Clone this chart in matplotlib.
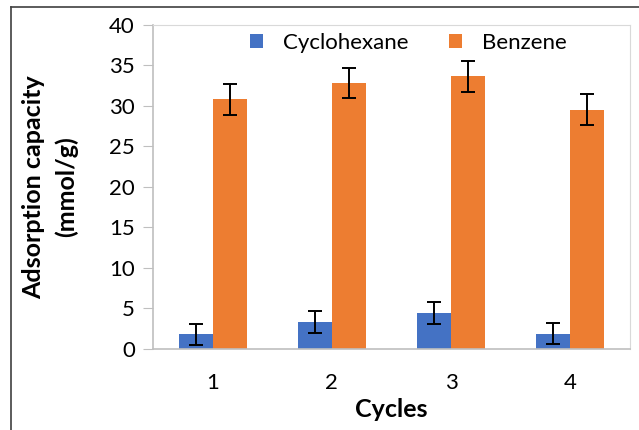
import numpy as np
import matplotlib.pyplot as plt
from matplotlib.lines import Line2D

plt.rcParams['font.family'] = ['Lato', 'DejaVu Sans']

cycles = ['1', '2', '3', '4']
cyclohexane = [1.8, 3.3, 4.4, 1.9]
cyclohexane_err = [1.3, 1.35, 1.35, 1.3]
benzene = [30.8, 32.8, 33.6, 29.5]
benzene_err = [1.9, 1.9, 1.9, 1.9]

fig = plt.figure(figsize=(6.39, 4.30), dpi=100)
ax = fig.add_axes([0.2394, 0.1884, 0.7465, 0.7546])

x = np.arange(len(cycles))
w = 0.285
err_kw = dict(ecolor='black', capsize=5, elinewidth=1.4, capthick=1.4)
ax.bar(x - w/2, cyclohexane, w, yerr=cyclohexane_err, color='#4472C4', label='Cyclohexane', error_kw=err_kw)
ax.bar(x + w/2, benzene, w, yerr=benzene_err, color='#ED7D31', label='Benzene', error_kw=err_kw)

ax.set_xlim(-0.5, 3.5)
ax.set_ylim(0, 40)
ax.set_yticks(range(0, 41, 5))
ax.set_xticks(x)
ax.set_xticklabels(cycles)
ax.tick_params(axis='y', length=7, color='#BFBFBF', labelsize=16, pad=6)
ax.tick_params(axis='x', length=0, labelsize=16, pad=17)
for s in ax.spines.values():
    s.set_color('#D9D9D9')
ax.spines['left'].set_color('#BFBFBF')
ax.spines['bottom'].set_color('#BFBFBF')
ax.spines['left'].set_linewidth(1.2)
ax.spines['bottom'].set_linewidth(1.2)

ax.set_xlabel('Cycles', fontsize=18, fontweight='bold', labelpad=4)
ax.set_ylabel('Adsorption capacity\n(mmol/g)', fontsize=18, fontweight='bold',
              labelpad=22, linespacing=1.5)

ax.legend(loc='upper center', ncol=2, frameon=False, fontsize=16, handlelength=0.6,
          handleheight=0.6, columnspacing=1.8, handletextpad=0.9, bbox_to_anchor=(0.535, 1.035))

# outer frame lines (left and top)
fig.add_artist(Line2D([11/639, 11/639], [0, 1 - 7/430], color='#404040', lw=1.2))
fig.add_artist(Line2D([11/639, 1], [1 - 7/430, 1 - 7/430], color='#404040', lw=1.2))

fig.savefig('out.png', dpi=100)
